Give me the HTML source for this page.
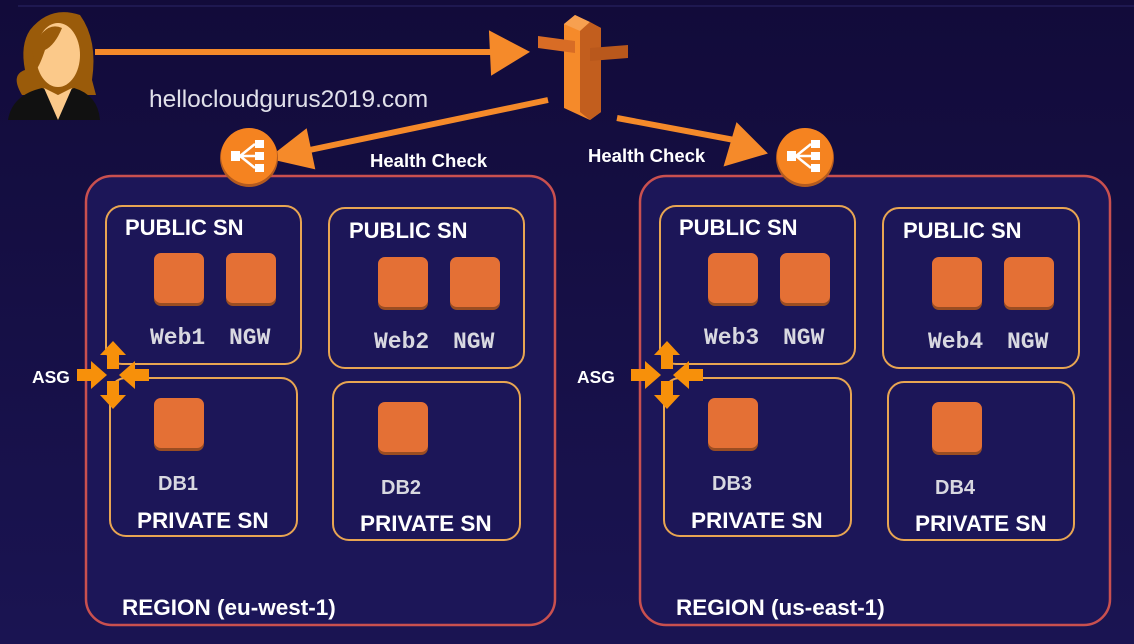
<!DOCTYPE html>
<html><head><meta charset="utf-8"><style>
html,body{margin:0;padding:0;background:#16103f;}
svg{display:block}
text{font-family:"Liberation Sans",sans-serif}
.t{fill:#fff;font-weight:bold;font-size:22px}
.m{fill:#d8d8e0;font-family:"Liberation Mono",monospace;font-weight:bold;font-size:23px}
.d{fill:#d8d8e0;font-weight:bold;font-size:20px}
</style></head><body>
<svg width="1134" height="644" viewBox="0 0 1134 644" xmlns="http://www.w3.org/2000/svg">
<defs>
<linearGradient id="bg" x1="0" y1="0" x2="0" y2="1"><stop offset="0" stop-color="#120b3a"/><stop offset="1" stop-color="#1a1452"/></linearGradient>
<g id="sq"><rect x="0" y="3" width="50" height="50" rx="7" fill="#9a4d22"/><rect x="0" y="0" width="50" height="50" rx="7" fill="#e47035"/></g>
<g id="lb"><circle cx="0" cy="2" r="29" fill="#b35a1f"/><circle cx="0" cy="0" r="28" fill="#f58320"/>
<rect x="-18" y="-5" width="9" height="10" fill="#fff"/><rect x="6" y="-16" width="9" height="8" fill="#fff"/><rect x="6" y="-4" width="9" height="8" fill="#fff"/><rect x="6" y="8" width="9" height="8" fill="#fff"/>
<path d="M-9 0 L6 -12 M-9 0 L6 0 M-9 0 L6 12" stroke="#fff" stroke-width="2.5"/></g>
<g id="asg" fill="#f7900a">
<polygon points="0,-34 -13,-20 -6,-20 -6,-6 6,-6 6,-20 13,-20"/>
<polygon points="0,34 -13,20 -6,20 -6,6 6,6 6,20 13,20"/>
<polygon points="-36,-6 -22,-6 -22,-14 -6,0 -22,14 -22,6 -36,6"/>
<polygon points="36,-6 22,-6 22,-14 6,0 22,14 22,6 36,6"/>
</g>
</defs>
<rect width="1134" height="644" fill="url(#bg)"/>
<line x1="18" y1="6" x2="1134" y2="6" stroke="#2a2466" stroke-width="1"/>

<!-- person -->
<path d="M30 30 Q50 5 80 15 Q98 40 92 80 L96 95 L22 95 Q10 75 25 70 Q20 45 30 30Z" fill="#9a5b0a"/>
<ellipse cx="58" cy="55" rx="22" ry="32" fill="#fbc98a"/>
<path d="M32 50 Q45 20 62 28 Q55 45 45 50 Q40 65 36 70Z" fill="#9a5b0a"/>
<path d="M8 120 Q12 95 42 88 L58 95 L74 88 Q98 95 100 120Z" fill="#111"/>
<polygon points="44,88 58,120 72,88 58,95" fill="#fbc98a"/>

<!-- arrows -->
<g fill="#f58a2a" stroke="#f58a2a">
<line x1="95" y1="52" x2="495" y2="52" stroke-width="6"/>
<polygon points="490,32 528,52 492,74" stroke-width="2"/>
<line x1="548" y1="100" x2="300" y2="152" stroke-width="6"/>
<polygon points="270,158 306,130 314,168" stroke-width="2"/>
<line x1="617" y1="118" x2="745" y2="142" stroke-width="6"/>
<polygon points="766,153 737,124 725,165" stroke-width="2"/>
</g>

<!-- route53 -->
<polygon points="564,24 575,15 601,28 601,112 590,120 564,108" fill="#f58a2a"/>
<polygon points="564,24 575,15 590,22 580,31" fill="#f7a050"/>
<polygon points="580,31 590,22 601,28 601,112 590,120 580,112" fill="#c25e1e"/>
<polygon points="538,36 575,41 575,53 538,48" fill="#d86c25"/>
<polygon points="590,48 628,45 628,58 590,61" fill="#b9581c"/>

<text x="149" y="107" fill="#e0e0ea" font-size="24.5">hellocloudgurus2019.com</text>
<text x="370" y="167" class="t" style="font-size:18.5px">Health Check</text>
<text x="588" y="162" class="t" style="font-size:18.5px">Health Check</text>

<!-- regions -->
<rect x="86" y="176" width="469" height="449" rx="26" fill="#1c1658" stroke="#c9504f" stroke-width="2.5"/>
<rect x="640" y="176" width="470" height="449" rx="26" fill="#1c1658" stroke="#c9504f" stroke-width="2.5"/>
<use href="#lb" x="249" y="156"/>
<use href="#lb" x="805" y="156"/>

<g fill="none" stroke="#e8a552" stroke-width="2">
<rect x="106" y="206" width="195" height="158" rx="16"/>
<rect x="329" y="208" width="195" height="160" rx="16"/>
<rect x="110" y="378" width="187" height="158" rx="16"/>
<rect x="333" y="382" width="187" height="158" rx="16"/>
<rect x="660" y="206" width="195" height="158" rx="16"/>
<rect x="883" y="208" width="196" height="160" rx="16"/>
<rect x="664" y="378" width="187" height="158" rx="16"/>
<rect x="888" y="382" width="186" height="158" rx="16"/>
</g>

<text x="125" y="235" class="t">PUBLIC SN</text>
<text x="349" y="238" class="t">PUBLIC SN</text>
<text x="679" y="235" class="t">PUBLIC SN</text>
<text x="903" y="238" class="t">PUBLIC SN</text>

<use href="#sq" x="154" y="253"/><use href="#sq" x="226" y="253"/>
<use href="#sq" x="378" y="257"/><use href="#sq" x="450" y="257"/>
<use href="#sq" x="708" y="253"/><use href="#sq" x="780" y="253"/>
<use href="#sq" x="932" y="257"/><use href="#sq" x="1004" y="257"/>
<use href="#sq" x="154" y="398"/><use href="#sq" x="378" y="402"/>
<use href="#sq" x="708" y="398"/><use href="#sq" x="932" y="402"/>

<text x="150" y="344" class="m">Web1</text><text x="229" y="344" class="m">NGW</text>
<text x="374" y="348" class="m">Web2</text><text x="453" y="348" class="m">NGW</text>
<text x="704" y="344" class="m">Web3</text><text x="783" y="344" class="m">NGW</text>
<text x="928" y="348" class="m">Web4</text><text x="1007" y="348" class="m">NGW</text>

<text x="158" y="490" class="d">DB1</text>
<text x="381" y="494" class="d">DB2</text>
<text x="712" y="490" class="d">DB3</text>
<text x="935" y="494" class="d">DB4</text>

<text x="137" y="528" class="t" style="font-size:22.5px">PRIVATE SN</text>
<text x="360" y="531" class="t" style="font-size:22.5px">PRIVATE SN</text>
<text x="691" y="528" class="t" style="font-size:22.5px">PRIVATE SN</text>
<text x="915" y="531" class="t" style="font-size:22.5px">PRIVATE SN</text>

<text x="122" y="615" class="t" style="font-size:22.5px">REGION (eu-west-1)</text>
<text x="676" y="615" class="t" style="font-size:22.5px">REGION (us-east-1)</text>

<use href="#asg" x="113" y="375"/>
<use href="#asg" x="667" y="375"/>
<text x="32" y="383" class="t" style="font-size:17.5px">ASG</text>
<text x="577" y="383" class="t" style="font-size:17.5px">ASG</text>
</svg>
</body></html>
